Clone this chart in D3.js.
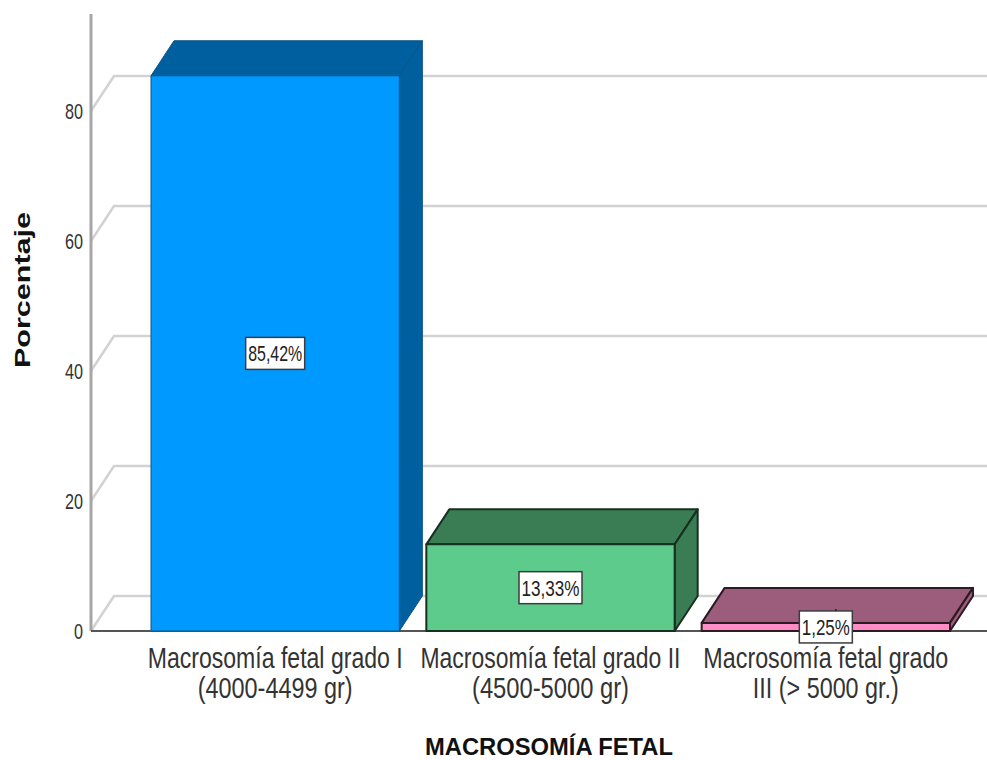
<!DOCTYPE html>
<html>
<head>
<meta charset="utf-8">
<script src="https://cdn.jsdelivr.net/npm/d3@7/dist/d3.min.js"></script>
<style>
  html, body { margin: 0; padding: 0; background: #fff; }
  svg { display: block; }
  text { font-family: "Liberation Sans", Arial, sans-serif; fill: #333; }
</style>
</head>
<body>
<svg id="chart" width="987" height="760"></svg>
<script>
const categories = ["Macrosomía fetal grado I", "Macrosomía fetal grado II", "Macrosomía fetal grado III"];
const categoryLines = [
  ["Macrosomía fetal grado I", "(4000-4499 gr)"],
  ["Macrosomía fetal grado II", "(4500-5000 gr)"],
  ["Macrosomía fetal grado", "III (> 5000 gr.)"]
];
const percentages = [85.42, 13.33, 1.25];
const valueLabels = ["85,42%", "13,33%", "1,25%"];
const yTicks = [0, 20, 40, 60, 80];
const frontColors = ["#0099ff", "#5ccb8b", "#ff8cc6"];
const darkColors = ["#005f9f", "#3a7d55", "#9c5c7b"];
const edgeColors = ["#0b5485", "#17301f", "#2c1a24"];

const svg = d3.select("#chart");

// Depth of the pseudo-3D box, in pixels
const depthX = 23, depthY = -35;

const y = d3.scaleLinear().domain([0, 80]).range([631, 111]);
const x = d3.scaleBand().domain(categories).range([151, 950]).paddingInner(0.098).paddingOuter(0);

// Horizontally condensed text, squeezed to a known width
function narrow(sel, width) {
  sel.attr("textLength", width).attr("lengthAdjust", "spacingAndGlyphs");
}

// Back wall gridlines with their slanted floor connectors
const grid = svg.append("g").attr("fill", "none").attr("stroke", "#d2d2d2").attr("stroke-width", 2.5);
grid.selectAll("path").data(yTicks).join("path")
  .attr("d", t => d3.line()([[91, y(t)], [91 + depthX, y(t) + depthY], [987, y(t) + depthY]]));

// Value axis
const axis = svg.append("g").attr("transform", "translate(91,0)")
  .call(d3.axisLeft(y).tickValues(yTicks).tickSize(0).tickPadding(8));
axis.select(".domain").remove();
axis.selectAll("text")
  .attr("font-size", 22)
  .attr("dy", "0.36em")
  .style("font-family", '"Liberation Sans", Arial, sans-serif')
  .style("fill", "#333")
  .each(function (t) { narrow(d3.select(this), t === 0 ? 9 : 18); });

svg.append("line").attr("x1", 91).attr("x2", 91).attr("y1", 14).attr("y2", 631)
  .attr("stroke", "#a6a6a6").attr("stroke-width", 3);
svg.append("line").attr("x1", 91).attr("x2", 987).attr("y1", y(0)).attr("y2", y(0))
  .attr("stroke", "#555").attr("stroke-width", 2);

// Bars drawn as three faces: top, side, front
const bars = svg.append("g").selectAll("g").data(categories).join("g");
bars.each(function (c, i) {
  const g = d3.select(this);
  const x0 = x(c), x1 = x0 + x.bandwidth(), yTop = y(percentages[i]), yBase = y(0);
  const line = d3.line();
  const style = s => s.attr("stroke", edgeColors[i]).attr("stroke-width", i === 0 ? 1 : 2).attr("stroke-linejoin", "round");
  g.append("path").call(style).attr("fill", darkColors[i]).attr("d", line([
    [x0, yTop], [x0 + depthX, yTop + depthY], [x1 + depthX, yTop + depthY], [x1, yTop]
  ]) + "Z");
  g.append("path").call(style).attr("fill", darkColors[i]).attr("d", line([
    [x1, yTop], [x1 + depthX, yTop + depthY], [x1 + depthX, yBase + depthY], [x1, yBase]
  ]) + "Z");
  g.append("rect").call(style).attr("fill", frontColors[i])
    .attr("x", x0).attr("y", yTop).attr("width", x1 - x0).attr("height", yBase - yTop);
});

// Value labels in white boxes at mid-height of each bar
const labelWidths = [59, 63, 53];
const labels = svg.append("g").selectAll("g").data(categories).join("g")
  .attr("transform", (c, i) => `translate(${x(c) + x.bandwidth() / 2},${(y(percentages[i]) + y(0)) / 2})`);
labels.append("rect")
  .attr("x", (c, i) => -labelWidths[i] / 2).attr("y", -16)
  .attr("width", (c, i) => labelWidths[i]).attr("height", 32)
  .attr("fill", "#fff").attr("stroke", "#3c3c3c").attr("stroke-width", 1.5);
labels.append("text")
  .attr("text-anchor", "middle").attr("y", 8).attr("font-size", 22)
  .style("fill", "#222")
  .text((c, i) => valueLabels[i])
  .each(function (c, i) { narrow(d3.select(this), labelWidths[i] - 5); });
// Short leader stub above the smallest bar's label
labels.filter((c, i) => i === 2).append("line")
  .attr("x1", 10).attr("x2", 10).attr("y1", -16).attr("y2", -18)
  .attr("stroke", "#222").attr("stroke-width", 1.5);

// Category labels on two lines
const lineWidths = [[255, 155], [260, 157], [245, 146]];
const cats = svg.append("g").selectAll("g").data(categories).join("g")
  .attr("transform", c => `translate(${x(c) + x.bandwidth() / 2},0)`);
cats.each(function (c, i) {
  categoryLines[i].forEach((t, k) => {
    d3.select(this).append("text")
      .attr("text-anchor", "middle").attr("y", 668 + k * 30).attr("font-size", 29)
      .text(t).call(narrow, lineWidths[i][k]);
  });
});

// Axis titles
svg.append("text").attr("x", 549).attr("y", 755).attr("text-anchor", "middle")
  .attr("font-size", 23.5).attr("font-weight", "bold").style("fill", "#111")
  .text("MACROSOMÍA FETAL").call(narrow, 248);
svg.append("text").attr("transform", "translate(30,290) rotate(-90)").attr("text-anchor", "middle")
  .attr("font-size", 22).attr("font-weight", "bold").style("fill", "#111")
  .text("Porcentaje").call(narrow, 156);
</script>
</body>
</html>
